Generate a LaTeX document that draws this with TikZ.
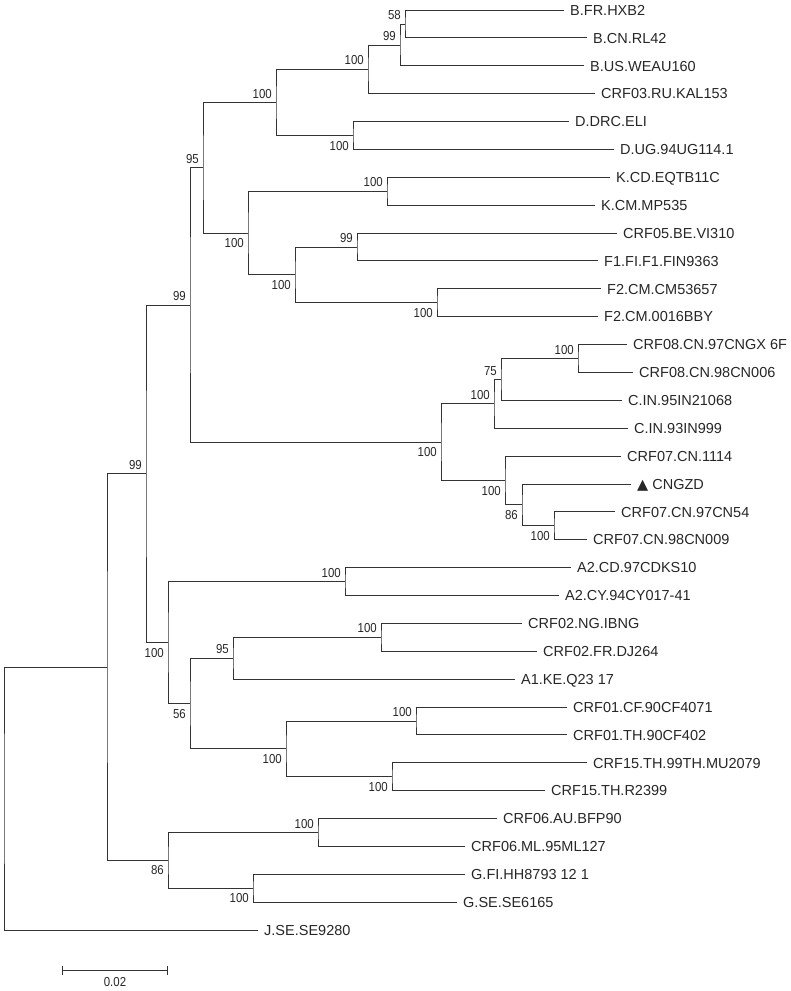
\documentclass[tikz,border=0pt]{standalone}
\usepackage{fontspec}
\setmainfont{Liberation Sans}
\newfontfamily\symfont{DejaVu Sans}
\newfontfamily\bsfont[FakeStretch=0.88]{Liberation Sans}
\begin{document}
\begin{tikzpicture}[
    x=1pt, y=-1pt,
    branch/.style={draw=black!80, line width=1pt},
    leaf/.style={
        anchor=west, inner xsep=6pt, inner ysep=0pt,
        font=\fontsize{14.5}{14.5}\selectfont, text=black!85,
        text height=10.4pt, text depth=0pt
    },
    bs/.style={inner sep=0pt, font=\bsfont\fontsize{13}{13}\selectfont, text=black!85},
    bsup/.style={bs, anchor=south east, xshift=-4pt, yshift=4pt},
    bsdown/.style={bs, anchor=north east, xshift=-4pt, yshift=-5pt, text height=9.3pt, text depth=0pt}
]
\useasboundingbox (0,0) rectangle (791,991);

% Taxa
\node[leaf] (hxb2) at (564,10) {B.FR.HXB2};
\node[leaf] (rl42) at (587,37.9) {B.CN.RL42};
\node[leaf] (weau) at (584,65.8) {B.US.WEAU160};
\node[leaf] (kal) at (595,93.6) {CRF03.RU.KAL153};
\node[leaf] (eli) at (569,121.5) {D.DRC.ELI};
\node[leaf] (ug114) at (614,149.4) {D.UG.94UG114.1};
\node[leaf] (eqtb) at (610,177.3) {K.CD.EQTB11C};
\node[leaf] (mp535) at (595,205.2) {K.CM.MP535};
\node[leaf] (vi310) at (617,233) {CRF05.BE.VI310};
\node[leaf] (fin) at (598,260.9) {F1.FI.F1.FIN9363};
\node[leaf] (cm536) at (601,288.8) {F2.CM.CM53657};
\node[leaf] (bby) at (598,316.7) {F2.CM.0016BBY};
\node[leaf] (cngx) at (627,344.6) {CRF08.CN.97CNGX 6F};
\node[leaf] (cn006) at (633,372.4) {CRF08.CN.98CN006};
\node[leaf] (in21068) at (622,400.3) {C.IN.95IN21068};
\node[leaf] (in999) at (628,428.2) {C.IN.93IN999};
\node[leaf] (cn1114) at (621,456.1) {CRF07.CN.1114};
\node[leaf] (cngzd) at (631,484) {{\symfont ▲} CNGZD};
\node[leaf] (cn54) at (615,511.8) {CRF07.CN.97CN54};
\node[leaf] (cn009) at (587,539.7) {CRF07.CN.98CN009};
\node[leaf] (cdks) at (571,567.6) {A2.CD.97CDKS10};
\node[leaf] (cy017) at (559,595.5) {A2.CY.94CY017-41};
\node[leaf] (ibng) at (522,623.4) {CRF02.NG.IBNG};
\node[leaf] (dj264) at (537,651.2) {CRF02.FR.DJ264};
\node[leaf] (q23) at (515,679.1) {A1.KE.Q23 17};
\node[leaf] (cf4071) at (567,707) {CRF01.CF.90CF4071};
\node[leaf] (cf402) at (567,734.9) {CRF01.TH.90CF402};
\node[leaf] (mu2079) at (587,762.8) {CRF15.TH.99TH.MU2079};
\node[leaf] (r2399) at (545,790.6) {CRF15.TH.R2399};
\node[leaf] (bfp90) at (497,818.5) {CRF06.AU.BFP90};
\node[leaf] (ml127) at (465,846.4) {CRF06.ML.95ML127};
\node[leaf] (hh8793) at (465,874.3) {G.FI.HH8793 12 1};
\node[leaf] (se6165) at (457,902.2) {G.SE.SE6165};
\node[leaf] (se9280) at (258,930) {J.SE.SE9280};

% Internal nodes
\coordinate (bA) at (405,24);
\coordinate (bB) at (400,45);
\coordinate (bC) at (368,69.3);
\coordinate (dD) at (353,135.5);
\coordinate (bBD) at (276,102.4);
\coordinate (kK) at (387,191.2);
\coordinate (fF15) at (357,247);
\coordinate (fF2) at (437,302.7);
\coordinate (fF) at (295,274.9);
\coordinate (kKF) at (248,233);
\coordinate (n95) at (203,167.7);
\coordinate (c08) at (578,358.5);
\coordinate (c75) at (501,379.4);
\coordinate (cC) at (494,403.8);
\coordinate (c07b) at (554,525.8);
\coordinate (c86) at (522,504.9);
\coordinate (c07) at (505,480.5);
\coordinate (cBC) at (441,442.2);
\coordinate (n99a) at (190,305);
\coordinate (aA2) at (345,581.6);
\coordinate (a02) at (381,637.3);
\coordinate (a95) at (233,658.2);
\coordinate (a01) at (416,721);
\coordinate (a15) at (392,776.7);
\coordinate (a0115) at (286,748.9);
\coordinate (a56) at (190,703.6);
\coordinate (aA) at (168,642.6);
\coordinate (n99b) at (146,473.8);
\coordinate (g06) at (318,832.5);
\coordinate (gG) at (253,888.3);
\coordinate (g86) at (168,860.4);
\coordinate (n99c) at (107,667.1);
\coordinate (root) at (4,798.6);

% Branches
\draw[branch] (hxb2.west) -| (bA) |- (rl42.west);
\draw[branch] (bA) -| (bB) |- (weau.west);
\draw[branch] (bB) -| (bC) |- (kal.west);
\draw[branch] (eli.west) -| (dD) |- (ug114.west);
\draw[branch] (bC) -| (bBD) |- (dD);
\draw[branch] (eqtb.west) -| (kK) |- (mp535.west);
\draw[branch] (vi310.west) -| (fF15) |- (fin.west);
\draw[branch] (cm536.west) -| (fF2) |- (bby.west);
\draw[branch] (fF15) -| (fF) |- (fF2);
\draw[branch] (kK) -| (kKF) |- (fF);
\draw[branch] (bBD) -| (n95) |- (kKF);
\draw[branch] (cngx.west) -| (c08) |- (cn006.west);
\draw[branch] (c08) -| (c75) |- (in21068.west);
\draw[branch] (c75) -| (cC) |- (in999.west);
\draw[branch] (cn54.west) -| (c07b) |- (cn009.west);
\draw[branch] (cngzd.west) -| (c86) |- (c07b);
\draw[branch] (cn1114.west) -| (c07) |- (c86);
\draw[branch] (cC) -| (cBC) |- (c07);
\draw[branch] (n95) -| (n99a) |- (cBC);
\draw[branch] (cdks.west) -| (aA2) |- (cy017.west);
\draw[branch] (ibng.west) -| (a02) |- (dj264.west);
\draw[branch] (a02) -| (a95) |- (q23.west);
\draw[branch] (cf4071.west) -| (a01) |- (cf402.west);
\draw[branch] (mu2079.west) -| (a15) |- (r2399.west);
\draw[branch] (a01) -| (a0115) |- (a15);
\draw[branch] (a95) -| (a56) |- (a0115);
\draw[branch] (aA2) -| (aA) |- (a56);
\draw[branch] (n99a) -| (n99b) |- (aA);
\draw[branch] (bfp90.west) -| (g06) |- (ml127.west);
\draw[branch] (hh8793.west) -| (gG) |- (se6165.west);
\draw[branch] (g06) -| (g86) |- (gG);
\draw[branch] (n99b) -| (n99c) |- (g86);
\draw[branch] (n99c) -| (root) |- (se9280.west);

% Bootstrap values
\node[bsup] at (bA) {58};
\node[bsup] at (bB) {99};
\node[bsup] at (bC) {100};
\node[bsdown] at (dD) {100};
\node[bsup] at (bBD) {100};
\node[bsup] at (kK) {100};
\node[bsup] at (fF15) {99};
\node[bsdown] at (fF2) {100};
\node[bsdown] at (fF) {100};
\node[bsdown] at (kKF) {100};
\node[bsup] at (n95) {95};
\node[bsup] at (c08) {100};
\node[bsup] at (c75) {75};
\node[bsup] at (cC) {100};
\node[bsdown] at (c07b) {100};
\node[bsdown] at (c86) {86};
\node[bsdown] at (c07) {100};
\node[bsdown] at (cBC) {100};
\node[bsup] at (n99a) {99};
\node[bsup] at (aA2) {100};
\node[bsup] at (a02) {100};
\node[bsup] at (a95) {95};
\node[bsup] at (a01) {100};
\node[bsdown] at (a15) {100};
\node[bsdown] at (a0115) {100};
\node[bsdown] at (a56) {56};
\node[bsdown] at (aA) {100};
\node[bsup] at (n99b) {99};
\node[bsup] at (g06) {100};
\node[bsdown] at (gG) {100};
\node[bsdown] at (g86) {86};

% Scale bar
\coordinate (sbl) at (62,970);
\coordinate (sbr) at (167,970);
\draw[branch] (sbl) -- (sbr);
\draw[branch] ([yshift=4.5pt]sbl) -- ([yshift=-4.5pt]sbl);
\draw[branch] ([yshift=4.5pt]sbr) -- ([yshift=-4.5pt]sbr);
\node[bs] (sblabel) at (115,982) {0.02};

\end{tikzpicture}
\end{document}
